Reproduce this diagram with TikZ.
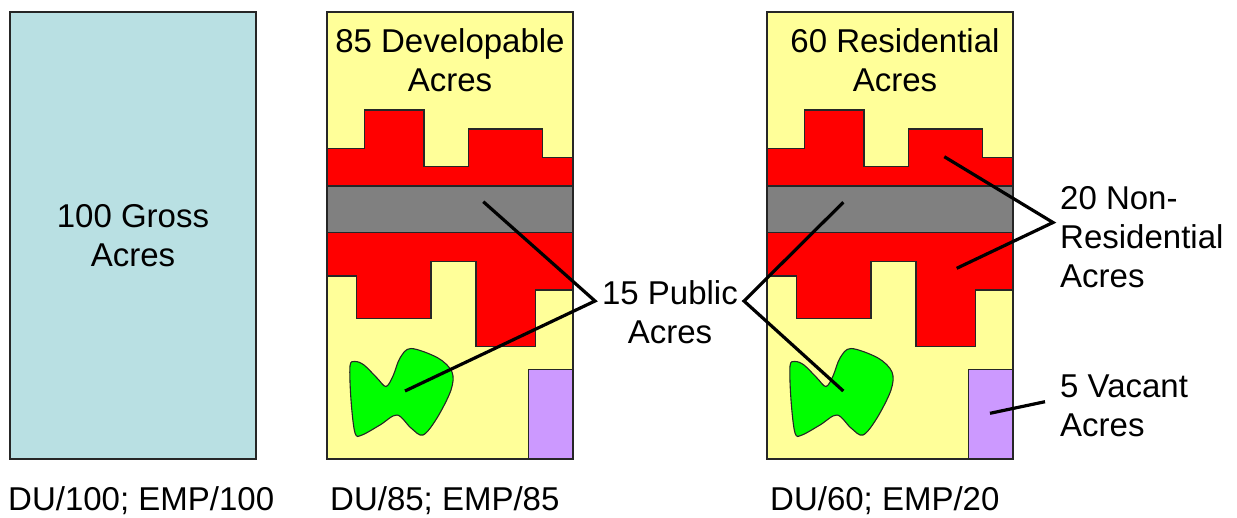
\documentclass[tikz,border=0pt]{standalone}
\usepackage{fontspec}
\setmainfont{Liberation Sans}
\definecolor{grossblue}{HTML}{B9E0E3}
\definecolor{landyellow}{HTML}{FFFF99}
\definecolor{nonred}{HTML}{FF0000}
\definecolor{roadgray}{HTML}{808080}
\definecolor{parkgreen}{HTML}{00FF00}
\definecolor{vacpurple}{HTML}{CC99FF}
\newcommand{\landpanel}{%
  \fill[landyellow] (327,12) rectangle (573,459);
  \draw[shape outline, fill=nonred] (327,148.3) -- (364.3,148.3) -- (364.3,110) -- (424,110) -- (424,166.7) -- (468.3,166.7) -- (468.3,129) -- (542.7,129) -- (542.7,157.3) -- (573,157.3) -- (573,186) -- (327,186) -- cycle;
  \draw[shape outline, fill=roadgray] (327,186) rectangle (573,232.7);
  \draw[shape outline, fill=nonred] (327,232.7) -- (573,232.7) -- (573,290) -- (535.3,290) -- (535.3,346.7) -- (476,346.7) -- (476,261.7) -- (431,261.7) -- (431,318.3) -- (356.7,318.3) -- (356.7,276) -- (327,276) -- cycle;
  \draw[shape outline, fill=vacpurple] (528.3,369.3) rectangle (573,459);
  \draw[shape outline, fill=parkgreen] plot[smooth cycle, tension=0.55] coordinates {(350,366) (355,361.5) (364,365) (377,378) (386,386.5) (393,376) (400,358) (411,348.5) (438,358) (452,372) (451,390) (437,418) (423,435) (411,428) (397,415) (380,425) (362,435) (355,433) (351,400)};
  \draw[shape outline] (327,12) rectangle (573,459);
}
\tikzset{
  shape outline/.style={draw=black!85, line width=1.1pt, line join=miter},
  conn/.style={draw=black, line width=3.2pt},
  lbl/.style={inner sep=0pt, font=\fontsize{33}{39}\selectfont},
}
\begin{document}
\begin{tikzpicture}[x=1pt,y=-1pt]
\useasboundingbox (0,0) rectangle (1237,517);
% gross panel
\draw[shape outline, fill=grossblue] (10,12) rectangle (256,459);
\node[lbl, align=center] (gross) at (133,236) {100 Gross\\Acres};
% developable panel
\landpanel
\node[lbl, align=center] (dev) at (450,60) {85 Developable\\Acres};
% residential panel
\begin{scope}[xshift=440pt]
\landpanel
\end{scope}
\node[lbl, align=center] (res) at (895,60) {60 Residential\\Acres};
% side labels
\node[lbl, align=center] (pub) at (670,312) {15 Public\\Acres};
\node[lbl, align=left, anchor=west] (nonres) at (1060,236.7) {20 Non-\\Residential\\Acres};
\node[lbl, align=left, anchor=west] (vac) at (1060,405.5) {5 Vacant\\Acres};
% bottom labels
\node[lbl, anchor=base west] (du1) at (8,510) {DU/100; EMP/100};
\node[lbl, anchor=base west] (du2) at (330,510) {DU/85; EMP/85};
\node[lbl, anchor=base west] (du3) at (770,510) {DU/60; EMP/20};
% connector points
\coordinate (pubL) at (595,301);
\coordinate (pubR) at (744,301);
\coordinate (nonV) at (1053,222.5);
\coordinate (vacV) at (1045,401.7);
\coordinate (mgray) at (483.3,201.7);
\coordinate (mgreen) at (405,391);
\coordinate (rgray) at (843.3,202.3);
\coordinate (rgreen) at (843.3,391);
\coordinate (rredA) at (944.3,156.7);
\coordinate (rredB) at (956.7,268.3);
\coordinate (rvac) at (990,413.3);
\draw[conn] (mgray) -- (pubL) -- (mgreen);
\draw[conn] (rgray) -- (pubR) -- (rgreen);
\draw[conn] (rredA) -- (nonV) -- (rredB);
\draw[conn] (rvac) -- (vacV);
\end{tikzpicture}
\end{document}
